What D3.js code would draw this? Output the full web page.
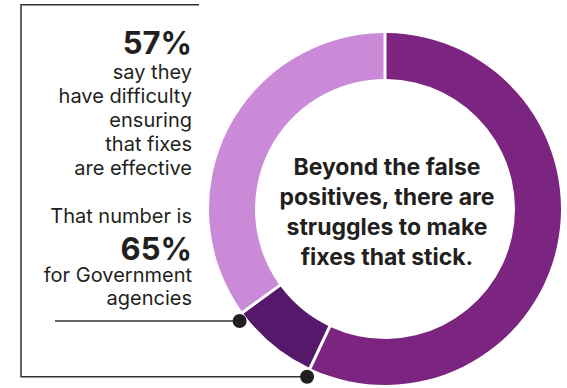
<!DOCTYPE html>
<html>
<head>
<meta charset="utf-8">
<script src="https://cdn.jsdelivr.net/npm/d3@7"></script>
<style>
  html, body { margin: 0; padding: 0; background: #fff; }
  svg { display: block; }
  text { font-family: Inter, "Open Sans", sans-serif; fill: #231f20; }
</style>
</head>
<body>
<svg id="chart" width="567" height="388"></svg>
<script>
// Survey shares
const overallShare = 57;      // all respondents
const governmentShare = 65;   // Government agencies

// Ring segments: overall share, extra share for Government, remainder
const segmentNames = ["Overall", "Government (additional)", "Remainder"];
const segmentValues = [overallShare, governmentShare - overallShare, 100 - governmentShare];
const segmentColors = ["#7b2581", "#55186a", "#cb8ad8"];

// Callout text blocks
const overallLines = ["say they", "have difficulty", "ensuring", "that fixes", "are effective"];
const governmentIntro = "That number is";
const governmentLines = ["for Government", "agencies"];
const centerLines = ["Beyond the false", "positives, there are", "struggles to make", "fixes that stick."];

const svg = d3.select("#chart");
const cx = 385, cy = 209;
const outerR = 176, innerR = 130;

const pie = d3.pie().sort(null).value(d => d);
const arcs = pie(segmentValues);
const arc = d3.arc()
  .innerRadius(innerR)
  .outerRadius(outerR)
  .padRadius(outerR)
  .padAngle(3 / outerR);

const ring = svg.append("g").attr("transform", `translate(${cx},${cy})`);
ring.selectAll("path")
  .data(arcs)
  .join("path")
  .attr("d", arc)
  .attr("fill", (d, i) => segmentColors[i]);

// Center message
const center = svg.append("text")
  .attr("text-anchor", "middle")
  .attr("font-weight", 700)
  .attr("font-size", 23);
centerLines.forEach((t, i) => {
  center.append("tspan").attr("x", cx + 2).attr("y", 175 + i * 30).text(t);
});

// Left callout: each block is one text element with a bold figure line
const textX = 192;
const bodySize = 20;
const figureSize = 31;

const overallText = svg.append("text").attr("text-anchor", "end").attr("font-size", bodySize);
overallText.append("tspan").attr("x", textX).attr("y", 54)
  .attr("font-weight", 700).attr("font-size", figureSize).text(overallShare + "%");
overallLines.forEach((t, i) => {
  overallText.append("tspan").attr("x", textX).attr("y", 79 + i * 23.9).text(t);
});

const govText = svg.append("text").attr("text-anchor", "end").attr("font-size", bodySize);
govText.append("tspan").attr("x", textX).attr("y", 222.7).text(governmentIntro);
govText.append("tspan").attr("x", textX).attr("y", 260)
  .attr("font-weight", 700).attr("font-size", figureSize).text(governmentShare + "%");
governmentLines.forEach((t, i) => {
  govText.append("tspan").attr("x", textX).attr("y", 282 + i * 23.3).text(t);
});

// Leader dots sit just below the outer end of each segment boundary
const dotShift = [-3, 8.5];
function boundaryPoint(angle) {
  return [cx + outerR * Math.sin(angle) + dotShift[0], cy - outerR * Math.cos(angle) + dotShift[1]];
}
const govDot = boundaryPoint(arcs[1].endAngle);
const overallDot = boundaryPoint(arcs[0].endAngle);

const lineColor = "#333";
const frame = svg.append("g").attr("fill", "none").attr("stroke", lineColor).attr("stroke-width", 1.5);
// Bracket around the callout, closing at the overall boundary
frame.append("path")
  .attr("d", `M199,4.8 H21 V${overallDot[1]} H${overallDot[0]}`);
// Government leader line
frame.append("line")
  .attr("x1", 55).attr("x2", govDot[0])
  .attr("y1", govDot[1]).attr("y2", govDot[1]);

svg.selectAll("circle.dot")
  .data([govDot, overallDot])
  .join("circle")
  .attr("class", "dot")
  .attr("cx", d => d[0]).attr("cy", d => d[1])
  .attr("r", 7)
  .attr("fill", "#231f20");
</script>
</body>
</html>
